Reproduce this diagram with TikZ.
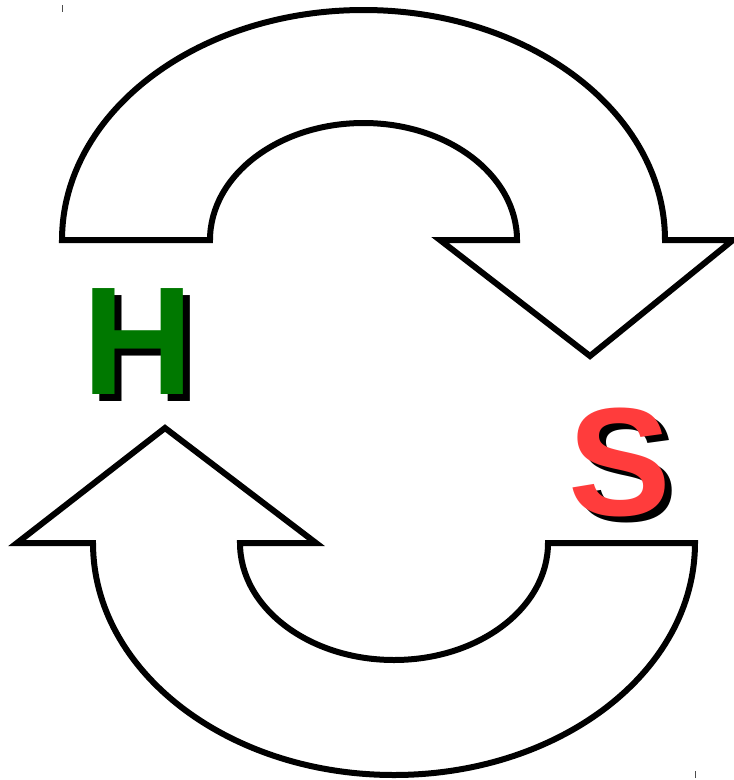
\documentclass[tikz,border=0pt]{standalone}
\usepackage{fontspec}
\setmainfont{Liberation Sans}
\usetikzlibrary{positioning}

\begin{document}
\begin{tikzpicture}[
  x=1pt, y=-1pt,
  turn/.style    = {draw, line width=6pt, fill=white, line join=miter},
  letter/.style  = {font=\fontsize{154}{154}\selectfont\bfseries,
                    inner sep=0pt, anchor=center},
  shadow/.style  = {letter, text=black},
  tick/.style    = {draw=black!70, line width=1pt}
]
\useasboundingbox (0,0) rectangle (734,780);

% top turning arrow
\draw[turn] (62,240) arc[start angle=180, end angle=360,
                          x radius=301.5, y radius=230]
  -- (733,240) -- (590,356) -- (440,240) -- (517,240)
  arc[start angle=360, end angle=180, x radius=153.5, y radius=117]
  -- cycle;

% bottom turning arrow
\draw[turn] (695,543) arc[start angle=0, end angle=180,
                           x radius=301, y radius=232]
  -- (17,543) -- (165,428) -- (316,543) -- (240,543)
  arc[start angle=180, end angle=0, x radius=154, y radius=117]
  -- cycle;

% letters with drop shadow
\node[shadow] (hshadow) at (145,349) {H};
\node[letter, text={rgb,255:red,0;green,120;blue,0}] (h) at (138,342) {H};
\node[shadow] (sshadow) at (627,468) {S};
\node[letter, text={rgb,255:red,255;green,60;blue,60}] (s) at (620,462) {S};

% crop marks
\coordinate (ctop) at (62,5);
\coordinate (cbot) at (695,778);
\draw[tick] (ctop) -- ++(0,7);
\draw[tick] (cbot) -- ++(0,-7);
\end{tikzpicture}
\end{document}
